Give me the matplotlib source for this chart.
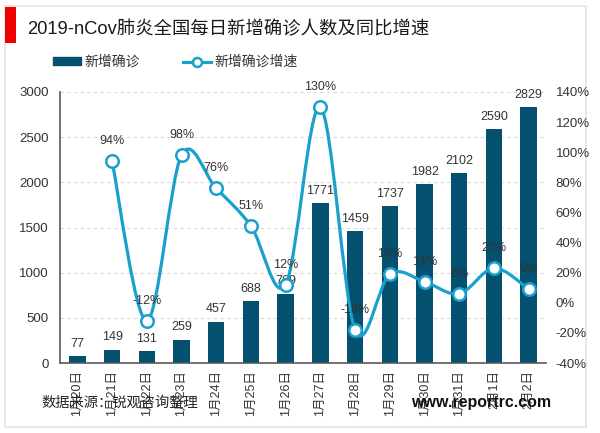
import matplotlib
matplotlib.use("Agg")
import matplotlib.pyplot as plt
import numpy as np
from matplotlib.path import Path
from matplotlib.patches import PathPatch, Rectangle
from matplotlib.lines import Line2D
from matplotlib.ticker import FuncFormatter

plt.rcParams['font.family'] = ['Liberation Sans', 'Noto Sans CJK SC', 'DejaVu Sans']

dates = ["1月20日", "1月21日", "1月22日", "1月23日", "1月24日", "1月25日", "1月26日",
         "1月27日", "1月28日", "1月29日", "1月30日", "1月31日", "2月1日", "2月2日"]
cases = [77, 149, 131, 259, 457, 688, 769, 1771, 1459, 1737, 1982, 2102, 2590, 2829]
growth = [None, 94, -12, 98, 76, 51, 12, 130, -18, 19, 14, 6, 23, 9]
title = "2019-nCov肺炎全国每日新增确诊人数及同比增速"
source = "数据来源：锐观咨询整理"
site = "www.reportrc.com"

BAR = "#03506F"
LINE = "#1AA0CC"
TXT = "#333333"
W, H = 600, 433

fig = plt.figure(figsize=(6, 4.33), dpi=100, facecolor="white")
ax = fig.add_axes([60/W, 1-363/H, 486/W, 271/H])
x = np.arange(len(dates))
bars = ax.bar(x, cases, width=0.47, color=BAR, zorder=2)
ax.set_xlim(-0.5, len(dates)-0.5)
ax.set_ylim(0, 3000)
ax.set_yticks(range(0, 3001, 500))
ax.set_xticks(x)
ax.set_xticklabels(dates, rotation=90, fontsize=9, color=TXT)
ax.tick_params(axis='y', length=0, labelsize=9.5, labelcolor=TXT, pad=8)
ax.tick_params(axis='x', length=0, pad=5)
ax.grid(axis='y', color="#D9D9D9", linestyle=(0, (3, 3)), linewidth=0.8, zorder=0)
ax.set_axisbelow(True)
for s in ['top', 'right']:
    ax.spines[s].set_visible(False)
for s in ['left', 'bottom']:
    ax.spines[s].set_color("#595959")
    ax.spines[s].set_linewidth(1.2)
for xi, v in zip(x, cases):
    ax.annotate(str(v), (xi, v), xytext=(0, 4.5), textcoords='offset points',
                ha='center', va='bottom', fontsize=9, color=TXT, zorder=6)

ax2 = ax.twinx()
ax2.set_ylim(-40, 140)
ax2.set_yticks(range(-40, 141, 20))
ax2.yaxis.set_major_formatter(FuncFormatter(lambda v, _: f"{int(v)}%"))
ax2.tick_params(axis='y', length=0, labelsize=9.5, labelcolor=TXT, pad=7)
for s in ax2.spines.values():
    s.set_visible(False)

# smooth curve through the growth points (spreadsheet-style smoothed line)
px = x[1:].astype(float)
py = np.array(growth[1:], dtype=float)
verts, codes = [(px[0], py[0])], [Path.MOVETO]
n = len(px)
for i in range(n-1):
    p0 = (px[max(i-1, 0)], py[max(i-1, 0)])
    p1 = (px[i], py[i])
    p2 = (px[i+1], py[i+1])
    p3 = (px[min(i+2, n-1)], py[min(i+2, n-1)])
    c1 = (p1[0]+(p2[0]-p0[0])/6, p1[1]+(p2[1]-p0[1])/6)
    c2 = (p2[0]-(p3[0]-p1[0])/6, p2[1]-(p3[1]-p1[1])/6)
    verts += [c1, c2, p2]
    codes += [Path.CURVE4]*3
ax2.add_patch(PathPatch(Path(verts, codes), fill=False, edgecolor=LINE, linewidth=2.3, zorder=3))
ax2.plot(px, py, linestyle='none', marker='o', markersize=9, markerfacecolor='white',
         markeredgecolor=LINE, markeredgewidth=1.8, zorder=4)
for xi, v in zip(px, py):
    ax2.annotate(f"{int(v)}%", (xi, v), xytext=(0, 14.5), textcoords='offset points',
                 ha='center', va='center', fontsize=9, color=TXT, zorder=6)

# legend
handles = [Rectangle((0, 0), 1, 1, color=BAR),
           Line2D([], [], color=LINE, linewidth=2.3, marker='o', markersize=6.5,
                  markerfacecolor='white', markeredgecolor=LINE, markeredgewidth=1.8)]
fig.legend(handles, ["新增确诊", "新增确诊增速"], ncol=2, frameon=False, fontsize=10,
           labelcolor=TXT, loc='center left', bbox_to_anchor=(53/W, 1-62/H),
           handlelength=2.0, handleheight=0.45, handletextpad=0.25, columnspacing=3.1,
           borderpad=0, borderaxespad=0)

# frame, accent and captions
fig.add_artist(Rectangle((5/W, 1-427/H), 581/W, 421/H, transform=fig.transFigure, fill=False,
                         edgecolor="#E4E4E4", linewidth=1.2, zorder=-1))
fig.add_artist(Rectangle((5/W, 1-43/H), 10.5/W, 36/H, transform=fig.transFigure,
                         facecolor="#F00000", edgecolor='none'))
fig.text(27/W, 1-29/H, title, fontsize=13.2, color="#1A1A1A", va='center', ha='left')
fig.text(41/W, 1-403/H, source, fontsize=10.3, color="#262626", va='center', ha='left', zorder=10)
fig.text(411/W, 1-403/H, site, fontsize=11.5, fontweight='bold', color="#111111",
         va='center', ha='left', zorder=10)

fig.savefig("out.png", dpi=100)
